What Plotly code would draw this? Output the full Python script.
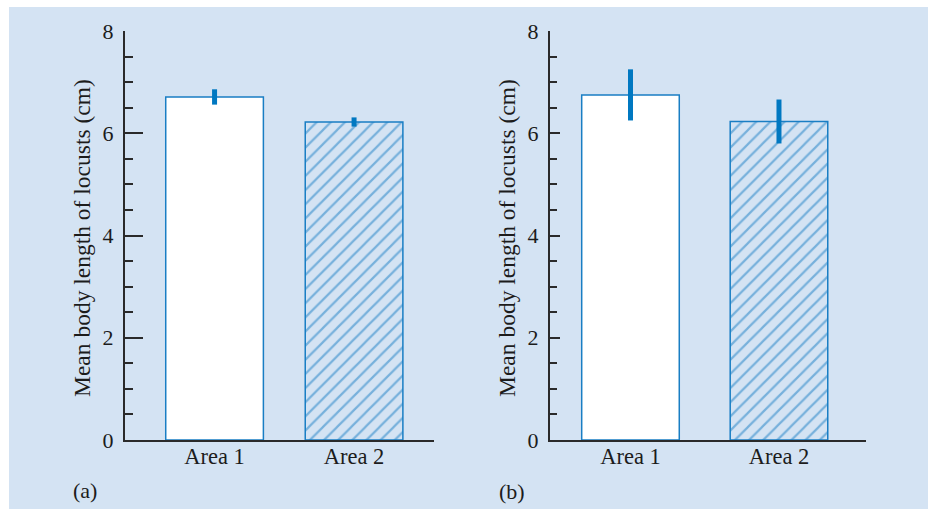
import plotly.graph_objects as go

categories = ["Area 1", "Area 2"]
means_a = [6.71, 6.22]
errors_a = [0.15, 0.09]
means_b = [6.75, 6.23]
errors_b = [0.50, 0.43]
y_ticks = [0, 2, 4, 6, 8]
y_minor_ticks = [0, 0.5, 1, 1.5, 2, 2.5, 3, 3.5, 4, 4.5, 5, 5.5, 6, 6.5, 7, 7.5, 8]
y_title = "Mean body length of locusts (cm)"
panel_labels = ["(a)", "(b)"]

W, H = 928, 509
BG = "rgb(212,227,243)"
BLUE = "rgb(25,126,196)"
EBLUE = "rgb(0,120,193)"
AX = "#2a2a2a"
TXT = "#1c1c1c"
FONT = "Liberation Serif"

def px_x(p):
    return p / W

def px_y(p):
    return 1 - p / H

fig = go.Figure()

for i, (means, errs) in enumerate([(means_a, errors_a), (means_b, errors_b)]):
    xa = "x" if i == 0 else "x2"
    ya = "y" if i == 0 else "y2"
    width = 0.70 if i == 0 else 0.657
    fig.add_trace(go.Bar(
        x=[categories[0]], y=[means[0]], xaxis=xa, yaxis=ya, width=width,
        marker=dict(color="white", line=dict(color=BLUE, width=1.5)),
        error_y=dict(type="data", array=[errs[0]], color=EBLUE, thickness=5, width=0),
        showlegend=False, hoverinfo="skip",
    ))
    fig.add_trace(go.Bar(
        x=[categories[1]], y=[means[1]], xaxis=xa, yaxis=ya, width=width,
        marker=dict(color=BG, line=dict(color=BLUE, width=1.5),
                    pattern=dict(shape="/", fgcolor=BLUE, size=10, solidity=0.22,
                                 fillmode="overlay")),
        error_y=dict(type="data", array=[errs[1]], color=EBLUE, thickness=5, width=0),
        showlegend=False, hoverinfo="skip",
    ))

# empty helper traces so the minor-tick overlay axes are created
fig.add_trace(go.Scatter(x=[], y=[], xaxis="x", yaxis="y3", showlegend=False, hoverinfo="skip"))
fig.add_trace(go.Scatter(x=[], y=[], xaxis="x2", yaxis="y4", showlegend=False, hoverinfo="skip"))

dom_y = [px_y(440), px_y(31)]
common_y = dict(
    range=[0, 8], tickvals=y_ticks, ticks="inside", tickwidth=2, tickcolor=AX,
    showline=True, linewidth=2, linecolor=AX, showgrid=False, zeroline=False,
    tickfont=dict(family=FONT, size=22, color=TXT), ticklabelstandoff=5,
    domain=dom_y, automargin=False,
)
minor_y = dict(
    range=[0, 8], tickvals=y_minor_ticks, ticks="inside", ticklen=8, tickwidth=2, tickcolor=AX,
    showline=False, showgrid=False, zeroline=False, showticklabels=False,
    domain=dom_y, automargin=False, side="left",
)
common_x = dict(
    showline=True, linewidth=2, linecolor=AX, showgrid=False, zeroline=False,
    ticks="", tickfont=dict(family=FONT, size=22.5, color=TXT), automargin=False,
    type="category", ticklabelstandoff=-5,
)

fig.update_layout(
    width=W, height=H, margin=dict(l=0, r=0, t=0, b=0),
    paper_bgcolor="white", plot_bgcolor="rgba(0,0,0,0)",
    barmode="overlay",
    xaxis=dict(common_x, domain=[px_x(125), px_x(434)], range=[-0.642, 1.573], anchor="y"),
    yaxis=dict(common_y, ticklen=18, anchor="x"),
    yaxis3=dict(minor_y, overlaying="y", anchor="x"),
    xaxis2=dict(common_x, domain=[px_x(550), px_x(866)], range=[-0.542, 1.586], anchor="y2"),
    yaxis2=dict(common_y, ticklen=10, anchor="x2"),
    yaxis4=dict(minor_y, ticklen=7, overlaying="y2", anchor="x2"),
    shapes=[dict(type="rect", xref="paper", yref="paper", x0=px_x(9), x1=1.0,
                 y0=0.0, y1=px_y(7), fillcolor=BG, line=dict(width=0), layer="below")],
)

annotations = []
for cx in [82, 507]:
    annotations.append(dict(text=y_title, x=px_x(cx), y=px_y(238), xref="paper", yref="paper",
                            textangle=-90, showarrow=False, xanchor="center", yanchor="middle",
                            font=dict(family=FONT, size=23.5, color=TXT)))
for lbl, (cx, cy) in zip(panel_labels, [(85, 490), (512, 491)]):
    annotations.append(dict(text=lbl, x=px_x(cx), y=px_y(cy), xref="paper", yref="paper",
                            showarrow=False, xanchor="center", yanchor="middle",
                            font=dict(family=FONT, size=22, color=TXT)))
fig.update_layout(annotations=annotations)

fig.write_html("out.html")
